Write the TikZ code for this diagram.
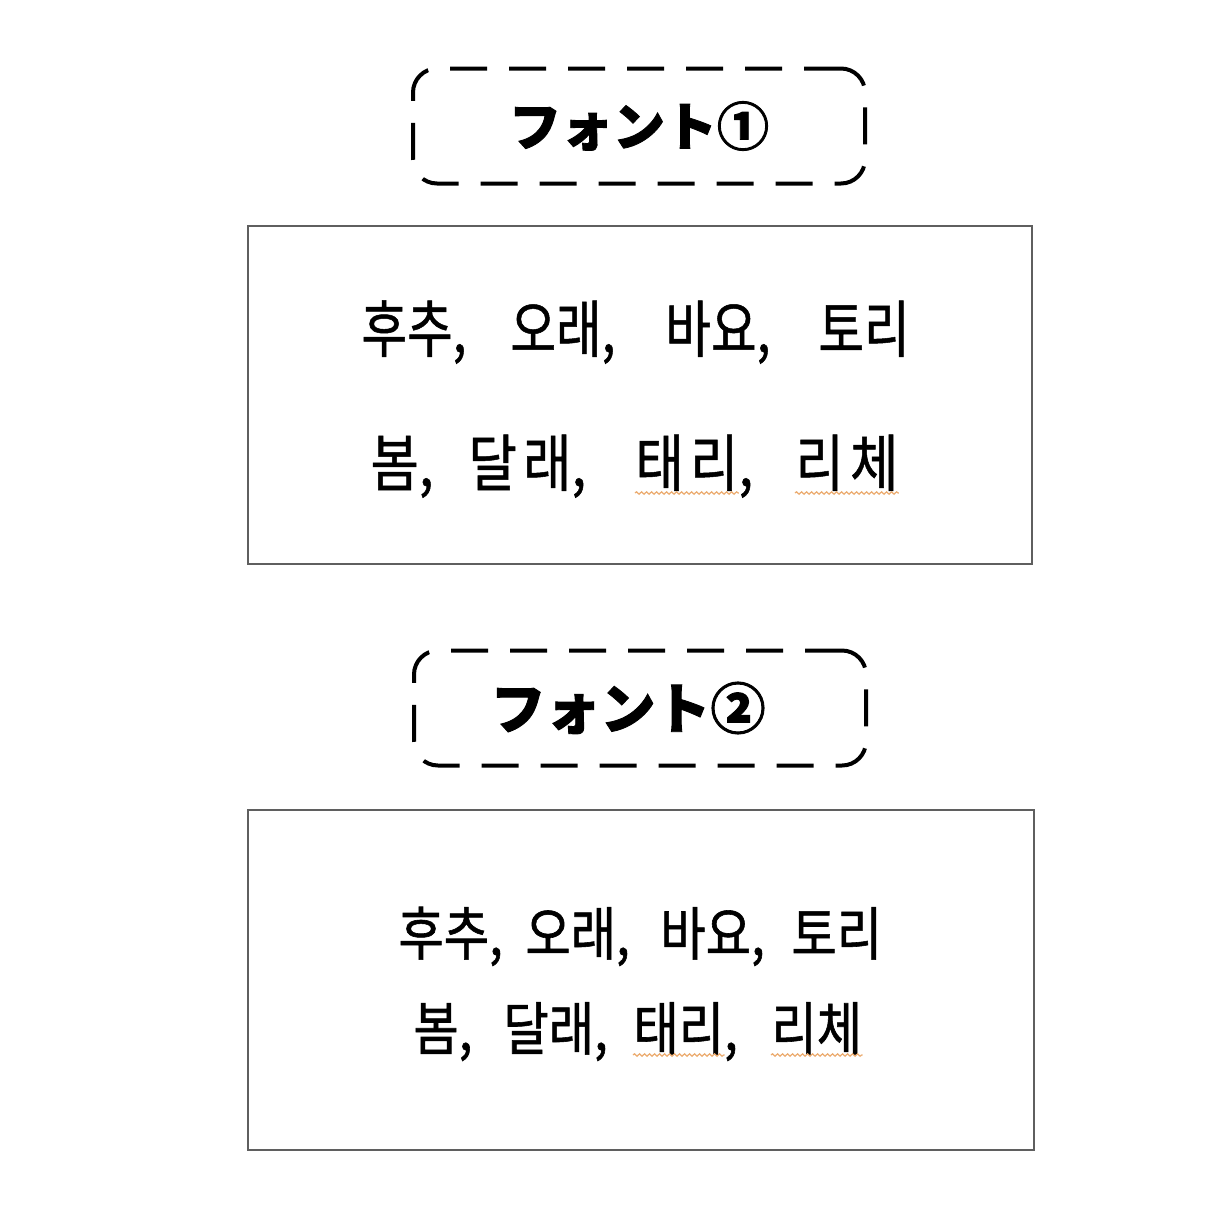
\documentclass[tikz,border=0pt]{standalone}
\usepackage{fontspec}
\newfontfamily\jpfont{Noto Sans CJK JP}[BoldFeatures={FakeBold=1.6}]
\newfontfamily\krfont{Noto Sans CJK KR}[FakeStretch=0.8, FakeBold=0.8]
\newfontfamily\krwide{Noto Sans CJK KR}[FakeStretch=0.85, FakeBold=0.8, LetterSpace=10]
\newfontfamily\krnarrow{Noto Sans CJK KR}[FakeStretch=0.85, FakeBold=1]
\usetikzlibrary{decorations.pathmorphing}

\definecolor{squiggle}{RGB}{236,172,112}
\definecolor{framegray}{RGB}{95,95,95}

\tikzset{
  titlebox/.style={draw, line width=2pt, dash pattern=on 18.5pt off 11pt,
                   rounded corners=12pt, minimum width=226pt, minimum height=57.5pt,
                   font=\jpfont\bfseries\fontsize{26}{26}\selectfont},
  listbox/.style={draw=framegray, line width=0.8pt},
  kr/.style={font=\krfont\fontsize{31}{31}\selectfont, inner sep=0pt, anchor=base west},
  krwide/.style={kr, font=\krwide\fontsize{31}{31}\selectfont},
  krsmall/.style={kr, font=\krnarrow\fontsize{29}{29}\selectfont},
  spell/.style={draw=squiggle, line width=0.6pt, decorate,
                decoration={snake, amplitude=0.6pt, segment length=2.5pt}}
}

\begin{document}
\begin{tikzpicture}[x=0.5pt, y=-0.5pt]
\useasboundingbox[fill=white] (0,0) rectangle (1206,1206);

% font 1
\node[titlebox] (title1) at (639,126) {フォント①};
\draw[listbox] (248,226) rectangle (1032,564);
\node[kr] (a1) at (361,352) {후추,};
\node[kr] (a2) at (510,352) {오래,};
\node[kr] (a3) at (665,352) {바요,};
\node[kr] (a4) at (818,352) {토리};
\node[krwide] (b1) at (370,486) {봄\rlap{,}};
\node[krwide] (b2) at (468,486) {달래\rlap{,}};
\node[krwide] (b3) at (635,486) {태리\rlap{,}};
\node[krwide] (b4) at (795,486) {리체};
\draw[spell] ([yshift=-3.5pt]b3.base west) -- ([yshift=-3.5pt]b3.base east);
\draw[spell] ([yshift=-3.5pt]b4.base west) -- ([yshift=-3.5pt]b4.base east);

% font 2
\node[titlebox, font=\jpfont\bfseries\fontsize{27.5}{27.5}\selectfont]
  (title2) at (640,708) {フォント②\kern12pt};
\draw[listbox] (248,810) rectangle (1034,1150);
\node[krsmall] (c1) at (398,955) {후추,};
\node[krsmall] (c2) at (525,955) {오래,};
\node[krsmall] (c3) at (660,955) {바요,};
\node[krsmall] (c4) at (791,955) {토리};
\node[krsmall] (d1) at (413,1050) {봄,};
\node[krsmall] (d2) at (503,1050) {달래,};
\node[krsmall] (d3) at (633,1050) {태리\rlap{,}};
\node[krsmall] (d4) at (771,1050) {리체};
\draw[spell] ([yshift=-2.5pt]d3.base west) -- ([yshift=-2.5pt]d3.base east);
\draw[spell] ([yshift=-2.5pt]d4.base west) -- ([yshift=-2.5pt]d4.base east);
\end{tikzpicture}
\end{document}
